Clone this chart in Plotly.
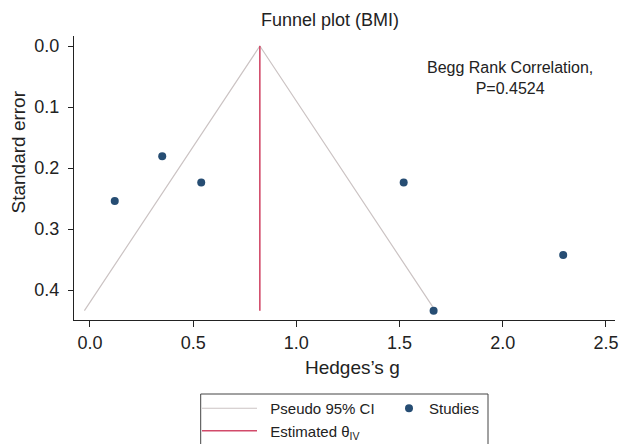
import plotly.graph_objects as go

# Data
hedges_g = [0.12, 0.35, 0.539, 1.52, 2.293, 1.665]
std_err = [0.254, 0.1805, 0.2236, 0.2236, 0.3426, 0.4337]
theta_iv = 0.823
z95 = 1.96
x_ticks = [0.0, 0.5, 1.0, 1.5, 2.0, 2.5]
y_ticks = [0.0, 0.1, 0.2, 0.3, 0.4]
begg_p = 0.4524

W, H = 622, 444
L, R, T, B = 74, 7, 36, 124
pw, ph = W - L - R, H - T - B

def px_x(p):
    return (p - L) / pw

def px_y(p):
    return (H - B - p) / ph

FONT = "Liberation Sans, Arial, Helvetica, sans-serif"
TXT = "#222222"
GRAY = "#cbc3c3"
RED = "#d24a6a"
NAVY = "#264d73"
PAD = "\u00a0\u00a0"

se_max = max(std_err)
ci_x = [theta_iv - z95 * se_max, theta_iv, theta_iv + z95 * se_max]
ci_y = [se_max, 0, se_max]

fig = go.Figure()
fig.add_trace(go.Scatter(x=ci_x, y=ci_y, mode="lines", name=PAD + "Pseudo 95% CI",
                         line=dict(color=GRAY, width=1.2), legend="legend"))
fig.add_trace(go.Scatter(x=[theta_iv, theta_iv], y=[0, se_max], mode="lines",
                         name=PAD + "Estimated θ<sub>IV</sub>",
                         line=dict(color=RED, width=1.6), legend="legend"))
fig.add_trace(go.Scatter(x=hedges_g, y=std_err, mode="markers", name="Studies",
                         marker=dict(color=NAVY, size=8), legend="legend2"))

fig.update_layout(
    width=W, height=H,
    margin=dict(l=L, r=R, t=T, b=B, autoexpand=False),
    paper_bgcolor="white", plot_bgcolor="white",
    font=dict(family=FONT, color=TXT, size=18),
    title=dict(text="Funnel plot (BMI)", x=330 / W, xref="container", xanchor="center",
               y=1 - 20 / H, yref="container", yanchor="middle",
               font=dict(size=18, color=TXT)),
    xaxis=dict(range=[-0.0775, 2.544], tickvals=x_ticks,
               ticktext=[f"{v:.1f}" for v in x_ticks],
               showline=True, linecolor=TXT, linewidth=1, ticks="outside",
               ticklen=6, tickcolor=TXT, showgrid=False, zeroline=False,
               tickfont=dict(size=18, color=TXT)),
    yaxis=dict(range=[0.449, -0.0164], tickvals=y_ticks,
               ticktext=[f"{v:.1f}" for v in y_ticks],
               showline=True, linecolor=TXT, linewidth=1, ticks="outside",
               ticklen=5, tickcolor=TXT, showgrid=False, zeroline=False,
               tickfont=dict(size=18, color=TXT), ticklabelstandoff=5),
    legend=dict(xref="container", yref="container", x=197 / W, y=1 - 392 / H,
                xanchor="left", yanchor="top", bgcolor="rgba(0,0,0,0)",
                borderwidth=0, itemwidth=55, font=dict(size=15, color=TXT),
                orientation="v", tracegroupgap=0),
    legend2=dict(xref="container", yref="container", x=389 / W, y=1 - 392 / H,
                 xanchor="left", yanchor="top", bgcolor="rgba(0,0,0,0)",
                 borderwidth=0, font=dict(size=15, color=TXT)),
    showlegend=True,
)

fig.add_annotation(text=f"Begg Rank Correlation,<br>P={begg_p:.4f}",
                   xref="paper", yref="paper", x=px_x(510), y=px_y(78),
                   xanchor="center", yanchor="middle", showarrow=False,
                   font=dict(size=16, color=TXT))
fig.add_annotation(text="Standard error", textangle=-90,
                   xref="paper", yref="paper", x=px_x(17.5), y=px_y(152),
                   xanchor="center", yanchor="middle", showarrow=False,
                   font=dict(size=19, color=TXT))
fig.add_annotation(text="Hedges’s g",
                   xref="paper", yref="paper", x=px_x(352), y=px_y(367),
                   xanchor="center", yanchor="middle", showarrow=False,
                   font=dict(size=19, color=TXT))

fig.add_shape(type="rect", xref="paper", yref="paper",
              x0=px_x(200.7), x1=px_x(488), y0=px_y(394), y1=px_y(460),
              line=dict(color="#444444", width=1), fillcolor="rgba(0,0,0,0)")

fig.write_html("out.html")
